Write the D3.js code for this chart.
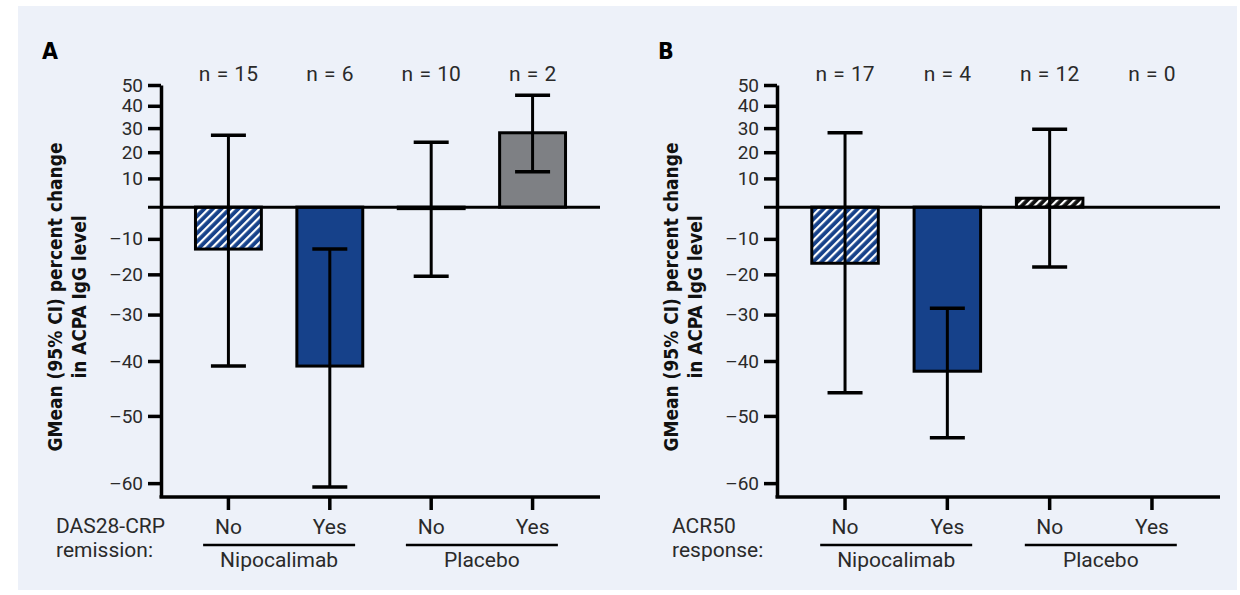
<!DOCTYPE html>
<html>
<head>
<meta charset="utf-8">
<script src="https://cdn.jsdelivr.net/npm/d3@7"></script>
<style>
  body { margin: 0; background: #fff; }
  svg text { font-family: Roboto, "Liberation Sans", sans-serif; fill: #2a2a2a; }
</style>
</head>
<body>
<div id="chart"></div>
<script>
// Kategorien und Gruppen
const categories = ["No", "Yes", "No", "Yes"];
const groups = ["Nipocalimab", "Placebo"];
const groupOf = [0, 0, 1, 1];
const fills = ["url(#hatch-blue)", "#16418a", "url(#hatch-black)", "#7e8084"];

// Y-Achse: prozentuale Veränderung (log-Skala)
const tickPercents = [50, 40, 30, 20, 10, -10, -20, -30, -40, -50, -60];

// Panel A: DAS28-CRP remission
const nA = [15, 6, 10, 2];
const meanA = [-13, -41, -0.5, 28];
const lowerA = [-41, -60.5, -20.5, 12.5];
const upperA = [27, -13, 24, 45];

// Panel B: ACR50 response
const nB = [17, 4, 12, 0];
const meanB = [-17, -42, 3, null];
const lowerB = [-46, -53.5, -18, null];
const upperB = [28, -28.5, 29.5, null];

const width = 1240, height = 595;
const svg = d3.select("#chart").append("svg")
    .attr("width", width)
    .attr("height", height);

// Muster für schraffierte Balken
const defs = svg.append("defs");
function hatch(id, color) {
    const p = defs.append("pattern")
        .attr("id", id)
        .attr("patternUnits", "userSpaceOnUse")
        .attr("width", 6).attr("height", 6)
        .attr("patternTransform", "rotate(45)");
    p.append("rect").attr("width", 6).attr("height", 6).attr("fill", color);
    p.append("rect").attr("x", 0).attr("width", 2.2).attr("height", 6).attr("fill", "#fff");
}
hatch("hatch-blue", "#16418a");
hatch("hatch-black", "#111");

svg.append("rect")
    .attr("x", 18).attr("y", 6)
    .attr("width", 1219).attr("height", 584)
    .attr("fill", "#edf1f9");

const pct = p => 1 + p / 100;
const fontSize = "21px";

function drawPanel(opts) {
    const { letter, left, right, rowLabel, n, mean, lower, upper } = opts;
    const top = 85, bottom = 497;
    const g = svg.append("g");

    const y = d3.scaleLog()
        .domain([0.382, 1.5])
        .range([bottom, top]);

    const ids = categories.map((c, i) => i);
    const x = d3.scaleBand()
        .domain(ids)
        .range([left, right])
        .paddingInner(0.35)
        .paddingOuter(0.34);

    // Buchstabe
    g.append("text")
        .attr("x", left - 119).attr("y", 59)
        .style("font-family", "'DejaVu Sans Condensed', 'DejaVu Sans', sans-serif")
        .style("font-weight", "bold")
        .style("font-size", "23px")
        .style("fill", "#000")
        .text(letter);

    // Y-Achsentitel
    const titleLines = ["GMean (95% CI) percent change", "in ACPA IgG level"];
    const titleLens = [309, 163];
    titleLines.forEach((t, i) => {
        g.append("text")
            .attr("transform", `translate(${left - 99 + i * 24},297) rotate(-90)`)
            .attr("text-anchor", "middle")
            .attr("textLength", titleLens[i])
            .attr("lengthAdjust", "spacingAndGlyphs")
            .style("font-family", "'DejaVu Sans Condensed', 'DejaVu Sans', sans-serif")
            .style("font-weight", "bold")
            .style("font-size", "19px")
            .style("fill", "#111")
            .text(t);
    });

    // Y-Achse
    const yAxis = g.append("g")
        .attr("transform", `translate(${left},0)`)
        .call(d3.axisLeft(y)
            .tickValues(tickPercents.map(pct))
            .tickFormat((d, i) => String(tickPercents[i]).replace("-", "\u2013"))
            .tickSize(13)
            .tickSizeOuter(0)
            .tickPadding(5));
    yAxis.select(".domain").attr("stroke", "#000").attr("stroke-width", 3.5);
    yAxis.selectAll(".tick line").attr("stroke", "#000").attr("stroke-width", 3.5);
    yAxis.selectAll(".tick text")
        .style("font-size", "19px")
        .style("font-family", "Roboto, sans-serif");

    // X-Achse
    const xAxis = g.append("g")
        .attr("transform", `translate(0,${bottom})`)
        .call(d3.axisBottom(x)
            .tickFormat(i => categories[i])
            .tickSize(13)
            .tickSizeOuter(0)
            .tickPadding(9));
    xAxis.select(".domain").attr("stroke", "#000").attr("stroke-width", 3.5)
        .attr("d", `M${left - 1.5},0H${right}`);
    xAxis.selectAll(".tick line").attr("stroke", "#000").attr("stroke-width", 3.5);
    xAxis.selectAll(".tick text")
        .style("font-size", fontSize)
        .style("font-family", "Roboto, sans-serif");

    // Balken
    const cx = i => x(i) + x.bandwidth() / 2;
    const valid = ids.filter(i => mean[i] !== null);
    g.append("g")
        .selectAll("rect")
        .data(valid)
        .enter()
        .append("rect")
        .attr("x", i => x(i))
        .attr("width", x.bandwidth())
        .attr("y", i => y(Math.max(pct(mean[i]), 1)))
        .attr("height", i => Math.abs(y(pct(mean[i])) - y(1)))
        .attr("fill", i => fills[i])
        .attr("stroke", "#000")
        .attr("stroke-width", 3);

    // Nulllinie
    g.append("line")
        .attr("x1", left - 13).attr("x2", right)
        .attr("y1", y(1)).attr("y2", y(1))
        .attr("stroke", "#000")
        .attr("stroke-width", 3);

    // Fehlerbalken (95% KI)
    const eb = g.append("g").attr("stroke", "#000");
    eb.selectAll(".stem")
        .data(valid)
        .enter()
        .append("line")
        .attr("x1", cx).attr("x2", cx)
        .attr("y1", i => y(pct(upper[i])))
        .attr("y2", i => y(pct(lower[i])))
        .attr("stroke-width", 3);
    [upper, lower].forEach(arr => {
        eb.selectAll(null)
            .data(valid)
            .enter()
            .append("line")
            .attr("x1", i => cx(i) - 17.5).attr("x2", i => cx(i) + 17.5)
            .attr("y1", i => y(pct(arr[i])))
            .attr("y2", i => y(pct(arr[i])))
            .attr("stroke-width", 3.5);
    });

    // n-Beschriftungen
    g.append("g")
        .selectAll("text")
        .data(ids)
        .enter()
        .append("text")
        .attr("x", cx)
        .attr("y", 81)
        .attr("text-anchor", "middle")
        .style("font-size", fontSize)
        .style("word-spacing", "1px")
        .text(i => `n = ${n[i]}`);

    // Gruppen
    groups.forEach((name, gi) => {
        const members = ids.filter(i => groupOf[i] === gi);
        const mid = (cx(members[0]) + cx(members[members.length - 1])) / 2;
        g.append("line")
            .attr("x1", mid - 76).attr("x2", mid + 76)
            .attr("y1", 545).attr("y2", 545)
            .attr("stroke", "#000")
            .attr("stroke-width", 2.5);
        g.append("text")
            .attr("x", mid).attr("y", 567)
            .attr("text-anchor", "middle")
            .style("font-size", fontSize)
            .text(name);
    });

    // Zeilenbeschriftung links
    rowLabel.forEach((t, i) => {
        g.append("text")
            .attr("x", left - 105).attr("y", 533 + i * 24)
            .style("font-size", fontSize)
            .text(t);
    });
}

drawPanel({
    letter: "A", left: 161, right: 600,
    rowLabel: ["DAS28-CRP", "remission:"],
    n: nA, mean: meanA, lower: lowerA, upper: upperA
});

drawPanel({
    letter: "B", left: 777, right: 1220,
    rowLabel: ["ACR50", "response:"],
    n: nB, mean: meanB, lower: lowerB, upper: upperB
});
</script>
</body>
</html>
